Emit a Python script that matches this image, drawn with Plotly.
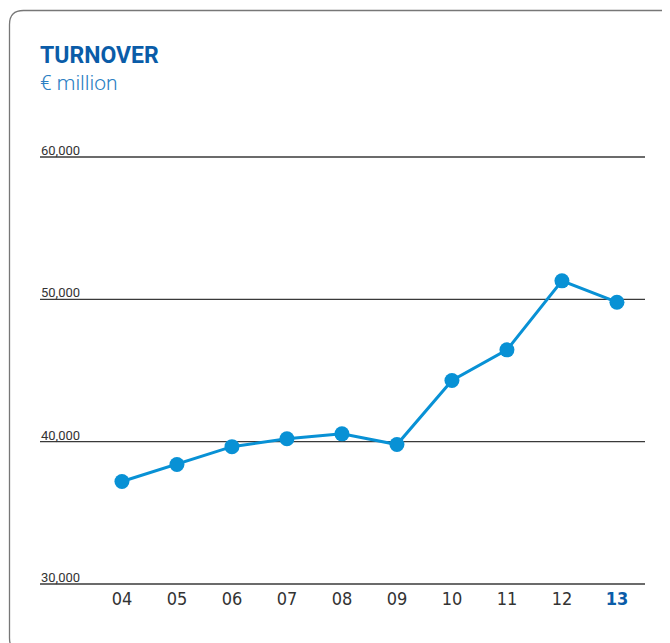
import plotly.graph_objects as go

# ---- data ----
years = ["04", "05", "06", "07", "08", "09", "10", "11", "12", "13"]
turnover = [37200, 38400, 39650, 40200, 40550, 39800, 44300, 46450, 51300, 49800]
y_ticks = [30000, 40000, 50000, 60000]
y_tick_labels = ["30,000", "40,000", "50,000", "60,000"]
title_text = "TURNOVER"
subtitle_text = "€ million"

# ---- layout geometry (pixels, page has an 8px body margin) ----
OFF = 8
PAD = 2  # extra px so edge gridlines are not clipped
W, H = 670 - 2 * OFF, 643 - OFF
ML, MT = 40 - OFF, 157 - OFF - PAD
MR = W - (645 - OFF)
MB = H - (584 - OFF) - PAD
PW = W - ML - MR
PH = H - MT - MB
span = y_ticks[-1] - y_ticks[0]
dv = PAD * span / (PH - 2 * PAD)
y_range = [y_ticks[0] - dv, y_ticks[-1] + dv]

def px(x):  # reference-page x -> paper
    return (x - OFF - ML) / PW

def py(y):  # reference-page y -> paper
    return (H - MB - (y - OFF)) / PH

LINE_BLUE = "#0891d5"
DARK_BLUE = "#0a5ca8"
LIGHT_BLUE = "#2b80c3"

tick_text = [y if i < len(years) - 1 else f"<b><span style='color:{DARK_BLUE}'>{y}</span></b>"
             for i, y in enumerate(years)]

fig = go.Figure()
fig.add_trace(go.Scatter(
    x=list(range(len(years))), y=turnover,
    mode="lines+markers",
    line=dict(color=LINE_BLUE, width=3),
    marker=dict(color=LINE_BLUE, size=15),
    hoverinfo="skip",
))

annotations = []
shapes = []
for v, t in zip(y_ticks, y_tick_labels):
    annotations.append(dict(
        x=0, xref="paper", y=v, yref="y", text=t, showarrow=False,
        xanchor="left", yanchor="bottom", yshift=-3, xshift=-1,
        font=dict(family="Roboto, DejaVu Sans", size=13, color="#333333"),
    ))
    shapes.append(dict(type="line", xref="paper", x0=0, x1=1, yref="y", y0=v, y1=v,
                       line=dict(color="#3a3a3a", width=1.3), layer="below"))

annotations.append(dict(
    x=px(38), y=py(55.5), xref="paper", yref="paper", text=f"<b>{title_text}</b>",
    showarrow=False, xanchor="left", yanchor="middle",
    font=dict(family="Roboto, DejaVu Sans", size=23, color=DARK_BLUE),
))
annotations.append(dict(
    x=px(38), y=py(83), xref="paper", yref="paper", text=subtitle_text,
    showarrow=False, xanchor="left", yanchor="middle",
    font=dict(family="Roboto, DejaVu Sans", size=21, color=LIGHT_BLUE, weight=300),
))

# rounded frame
x0, y0, x1, y1, r = 9.5, 10.5, 676, 652, 14
path = (f"M {px(x0)},{py(y0 + r)} Q {px(x0)},{py(y0)} {px(x0 + r)},{py(y0)} "
        f"L {px(x1 - r)},{py(y0)} Q {px(x1)},{py(y0)} {px(x1)},{py(y0 + r)} "
        f"L {px(x1)},{py(y1 - r)} Q {px(x1)},{py(y1)} {px(x1 - r)},{py(y1)} "
        f"L {px(x0 + r)},{py(y1)} Q {px(x0)},{py(y1)} {px(x0)},{py(y1 - r)} Z")
shapes.append(dict(type="path", path=path, xref="paper", yref="paper",
                   line=dict(color="#777777", width=1.3), layer="below"))

fig.update_layout(
    width=W, height=H,
    margin=dict(l=ML, r=MR, t=MT, b=MB),
    paper_bgcolor="white", plot_bgcolor="white",
    showlegend=False,
    annotations=annotations,
    shapes=shapes,
    xaxis=dict(
        range=[-1.49, 9.51],
        tickmode="array", tickvals=list(range(len(years))), ticktext=tick_text,
        showgrid=False, zeroline=False, showline=False, ticks="",
        tickfont=dict(family="Liberation Sans Narrow, DejaVu Sans Condensed, Roboto", size=18, color="#333333"),
        fixedrange=True,
    ),
    yaxis=dict(
        range=y_range,
        showticklabels=False, showgrid=False,
        zeroline=False, showline=False, ticks="",
        fixedrange=True,
    ),
)

fig.write_html("out.html")
